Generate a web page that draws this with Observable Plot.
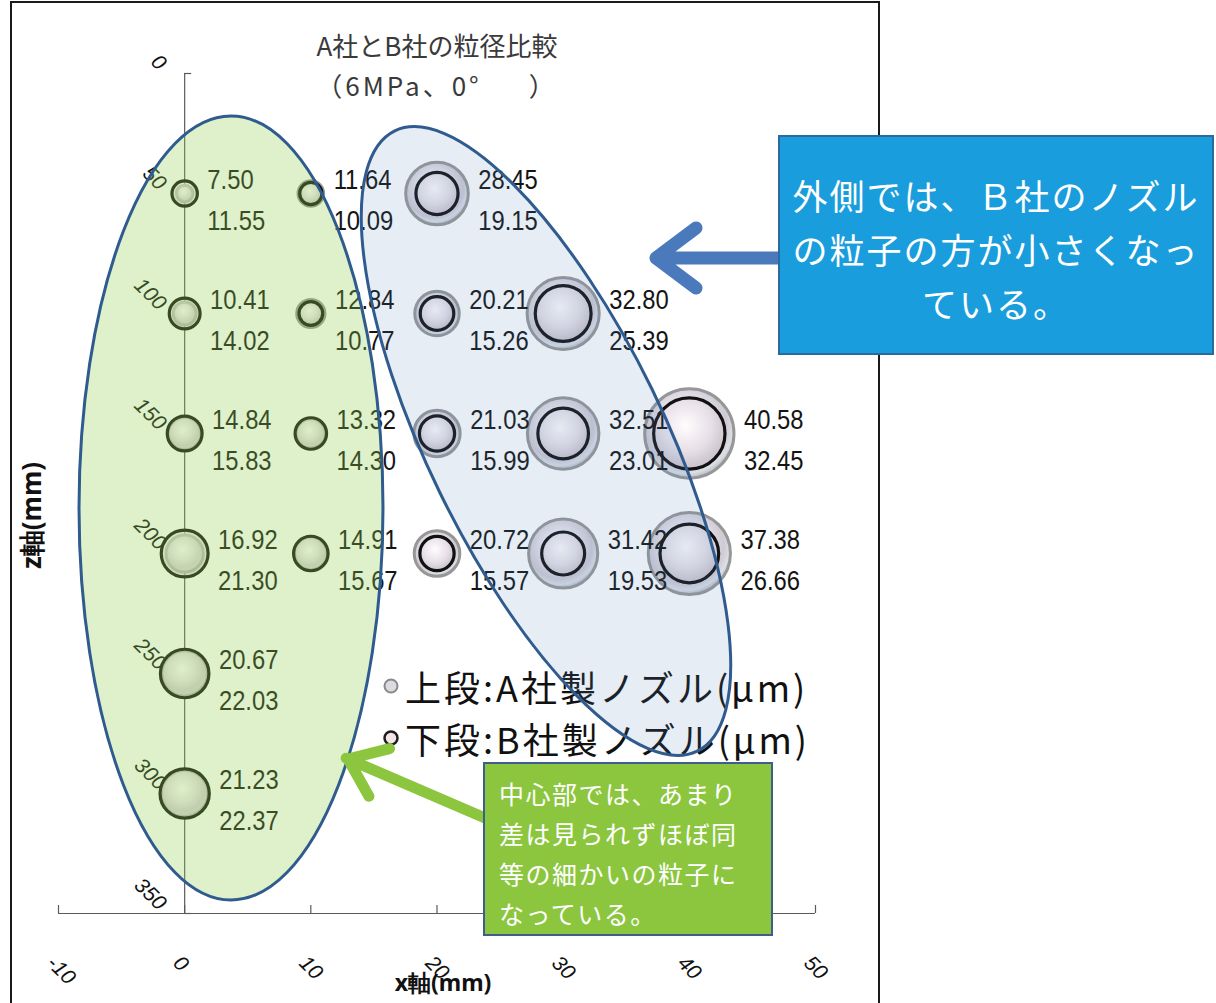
<!DOCTYPE html>
<html><head><meta charset="utf-8">
<script src="https://cdn.jsdelivr.net/npm/d3@7"></script>
<script src="https://cdn.jsdelivr.net/npm/@observablehq/plot@0.6"></script>
<style>
html,body{margin:0;padding:0;background:#fff;}
#wrap{position:relative;width:1216px;height:1003px;overflow:hidden;font-family:"Noto Sans CJK JP","Noto Sans",sans-serif;}
#frame{position:absolute;left:10px;top:1px;width:870px;height:1020px;border:2px solid #1a1a1a;box-sizing:border-box;}
#plotbox{position:absolute;left:0;top:0;}
#title{position:absolute;left:237px;top:25px;width:400px;text-align:center;font-size:26px;line-height:40px;color:#3a3a3a;}
#title .sub{letter-spacing:3px;}
#title .gap{display:inline-block;width:18px;}
.leg{position:absolute;left:382px;height:44px;display:flex;align-items:center;font-size:36px;color:#111;white-space:nowrap;letter-spacing:3px;}
.leg svg{margin-right:5px;}
#ov{position:absolute;left:0;top:0;}
.box{position:absolute;box-sizing:border-box;color:#fff;}
#blueBox{left:778px;top:135px;width:436px;height:220px;background:#1a9ddc;border:2px solid #2b6a9e;text-align:center;font-size:35px;line-height:54px;padding-top:31px;letter-spacing:2px;}
#greenBox{left:483px;top:762px;width:290px;height:174px;background:#8cc63f;border:2px solid #3d5d8c;text-align:left;font-size:25px;line-height:40px;padding-left:14px;padding-top:9px;letter-spacing:1.5px;}
</style></head>
<body><div id="wrap"><div id="plotbox"></div><div id="frame"></div></div>
<script>
// ---- data ----
const xPos  = [0, 0, 0, 0, 0, 0, 10, 10, 10, 10, 20, 20, 20, 20, 30, 30, 30, 40, 40];
const zPos  = [50, 100, 150, 200, 250, 300, 50, 100, 150, 200, 50, 100, 150, 200, 100, 150, 200, 150, 200];
const sizeA = [7.50, 10.41, 14.84, 16.92, 20.67, 21.23, 11.64, 12.84, 13.32, 14.91, 28.45, 20.21, 21.03, 20.72, 32.80, 32.51, 31.42, 40.58, 37.38];
const sizeB = [11.55, 14.02, 15.83, 21.30, 22.03, 22.37, 10.09, 10.77, 14.30, 15.67, 19.15, 15.26, 15.99, 15.57, 25.39, 23.01, 19.53, 32.45, 26.66];
const xTicks = [-10, 0, 10, 20, 30, 40, 50];
const zTicks = [0, 50, 100, 150, 200, 250, 300, 350];
const titleLines = ["A社とB社の粒径比較", "（6MPa、0°　）"];
const xTitle = "x軸(mm)";
const zTitle = "z軸(mm)";
const legendLabels = ["上段:A社製ノズル(μm)", "下段:B社製ノズル(μm)"];
const noteOuter = ["外側では、Ｂ社のノズル", "の粒子の方が小さくなっ", "ている。"];
const noteCenter = ["中心部では、あまり", "差は見られずほぼ同", "等の細かいの粒子に", "なっている。"];

const data = xPos.map((x, i) => ({x, z: zPos[i], a: sizeA[i], b: sizeB[i]}));

// ---- layout ----
const W = 880, H = 1003, ML = 58, MR = 65, MT = 73, MB = 90;
const rPerUnit = 1.1;
const pxPerX = (W - ML - MR) / 60;
const pxPerZ = (H - MT - MB) / 350;
const numFont = "'Liberation Sans',Arial,sans-serif";
const narrow = 0.85;

const plot = Plot.plot({
  width: W, height: H,
  marginLeft: ML, marginRight: MR, marginTop: MT, marginBottom: MB,
  x: {domain: [-10, 50], axis: null},
  y: {domain: [0, 350], reverse: true, axis: null},
  r: {type: "linear", domain: [0, 40], range: [0, 40 * rPerUnit]},
  style: {background: "transparent", overflow: "visible"},
  marks: [
    Plot.ruleY([350], {stroke: "#5a5a5a", strokeWidth: 1.2}),
    Plot.ruleX([0], {y1: 0, y2: 350, stroke: "#5a5a5a", strokeWidth: 1.2}),
    Plot.ruleX(xTicks, {x: d => d, y1: 350, y2: 350 - 8 / pxPerZ, stroke: "#5a5a5a", strokeWidth: 1.2}),
    Plot.ruleY(zTicks, {y: d => d, x1: 0, x2: 7 / pxPerX, stroke: "#5a5a5a", strokeWidth: 1.2}),
    Plot.text(zTicks, {x: 0, y: d => d, text: d => String(d), rotate: 45, textAnchor: "end",
      dx: -22, dy: -7, fontSize: 21, fontStyle: "italic", fontFamily: "'Liberation Sans',sans-serif", fill: "#111"}),
    Plot.text(xTicks, {x: d => d, y: 350, text: d => String(d), rotate: 45, textAnchor: "start",
      dx: -8, dy: 46, fontSize: 21, fontStyle: "italic", fontFamily: "'Liberation Sans',sans-serif", fill: "#111"}),
    Plot.dot(data, {x: "x", y: "z", r: "a", fill: "url(#gA)", stroke: "#979797", strokeWidth: 3}),
    Plot.dot(data, {x: "x", y: "z", r: "b", fill: "url(#gB)", fillOpacity: 0.55, stroke: "#111", strokeWidth: 3.2}),
    Plot.text(data, {
      x: d => d.x + (rPerUnit * Math.max(d.a, d.b) + 10) / pxPerX, y: "z",
      text: d => d.a.toFixed(2) + "\n" + d.b.toFixed(2),
      textAnchor: "start", lineHeight: 1.45, dy: 3, fontSize: 28, fontFamily: numFont, fill: "#141414"
    }),
    Plot.text([zTitle], {text: d => d, frameAnchor: "left", textAnchor: "middle", rotate: -90, dx: -26, dy: 22,
      fontSize: 26, fontWeight: "bold", fill: "#111"}),
    Plot.text([xTitle], {text: d => d, frameAnchor: "bottom", textAnchor: "middle", dx: 6, dy: 77,
      fontSize: 23, fontWeight: "bold", fill: "#111"})
  ]
});

d3.select(plot).insert("defs", ":first-child").html(`
  <radialGradient id="gA" cx="45%" cy="40%" r="62%">
    <stop offset="0%" stop-color="#ffffff"/>
    <stop offset="40%" stop-color="#ebe7ee"/>
    <stop offset="75%" stop-color="#cfcad4"/>
    <stop offset="88%" stop-color="#dcdfe6"/>
    <stop offset="100%" stop-color="#b0b0b8"/>
  </radialGradient>
  <radialGradient id="gB" cx="45%" cy="40%" r="62%">
    <stop offset="0%" stop-color="#fffafc"/>
    <stop offset="60%" stop-color="#e6dde4"/>
    <stop offset="100%" stop-color="#c6bac4"/>
  </radialGradient>`);

// condensed look for the two-line value labels (the reference uses a narrow face)
d3.select(plot).selectAll("text").each(function() {
  if (!/^\d+\.\d\d\d+\.\d\d$/.test(this.textContent.replace(/\s/g, ""))) return;
  const tr = this.getAttribute("transform");
  if (tr) this.setAttribute("transform", tr + ` scale(${narrow},1)`);
  else {
    const x = +this.getAttribute("x") || 0, y = +this.getAttribute("y") || 0;
    this.removeAttribute("x"); this.removeAttribute("y");
    this.setAttribute("transform", `translate(${x},${y}) scale(${narrow},1)`);
  }
});

const wrap = document.getElementById("wrap");
document.getElementById("plotbox").appendChild(plot);

// title
const t = document.createElement("div");
t.id = "title";
const sub = titleLines[1];
t.innerHTML = `<div>${titleLines[0]}</div><div class="sub">${sub.slice(0, -1)}<span class="gap"></span>${sub.slice(-1)}</div>`;
wrap.appendChild(t);

// legend
const legendSym = [
  `<svg width="18" height="18"><circle cx="9" cy="9" r="6.5" fill="#dcdbe2" stroke="#8a8a8a" stroke-width="2"/></svg>`,
  `<svg width="18" height="18"><circle cx="9" cy="9" r="6.5" fill="#f4e4e8" stroke="#1e1e1e" stroke-width="2.5"/></svg>`
];
const legendTop = [664, 716];
legendLabels.forEach((s, i) => {
  const d = document.createElement("div");
  d.className = "leg";
  d.style.top = legendTop[i] + "px";
  d.innerHTML = legendSym[i] + "<span>" + s + "</span>";
  wrap.appendChild(d);
});

// overlay: ellipses + arrows
const ov = d3.select(wrap).append("svg").attr("id", "ov").attr("width", 1216).attr("height", 1003);
ov.append("ellipse").attr("cx", 231).attr("cy", 508).attr("rx", 152).attr("ry", 392)
  .attr("fill", "#92d050").attr("fill-opacity", 0.3).attr("stroke", "#2f5b8f").attr("stroke-width", 3);
ov.append("ellipse").attr("transform", "translate(546,441) rotate(-26)").attr("rx", 118).attr("ry", 345)
  .attr("fill", "#5a88bd").attr("fill-opacity", 0.15).attr("stroke", "#2f5b8f").attr("stroke-width", 3);
// blue arrow
ov.append("path").attr("d", "M780,258 L658,258 M696,228 L656,258 L696,288")
  .attr("fill", "none").attr("stroke", "#4a7abb").attr("stroke-width", 13)
  .attr("stroke-linecap", "round").attr("stroke-linejoin", "round");
// green arrow
(function(){
  const x0 = 485, y0 = 818, x1 = 348, y1 = 759;
  const L = Math.hypot(x1 - x0, y1 - y0), ux = (x1 - x0) / L, uy = (y1 - y0) / L;
  const px = -uy, py = ux, back = 34, side = 26;
  const a = [x1 - ux * back + px * side, y1 - uy * back + py * side];
  const b = [x1 - ux * back - px * side, y1 - uy * back - py * side];
  ov.append("path").attr("d", `M${x0},${y0} L${x1 + ux*2},${y1 + uy*2} M${a[0]},${a[1]} L${x1},${y1} L${b[0]},${b[1]}`)
    .attr("fill", "none").attr("stroke", "#8cc63f").attr("stroke-width", 11)
    .attr("stroke-linecap", "round").attr("stroke-linejoin", "round");
})();

// note boxes
const bb = document.createElement("div");
bb.className = "box"; bb.id = "blueBox";
bb.innerHTML = noteOuter.join("<br>");
wrap.appendChild(bb);
const gb = document.createElement("div");
gb.className = "box"; gb.id = "greenBox";
gb.innerHTML = noteCenter.join("<br>");
wrap.appendChild(gb);
</script>
</body></html>
